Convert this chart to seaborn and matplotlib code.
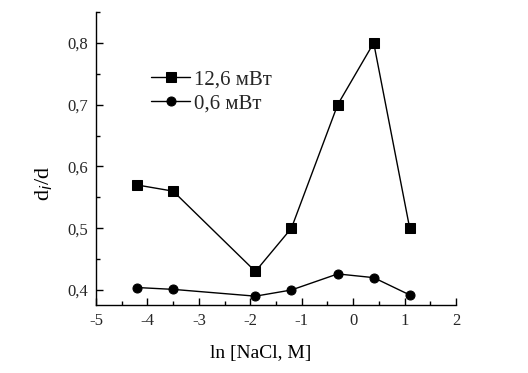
import matplotlib
matplotlib.use("Agg")
import matplotlib.pyplot as plt
import pandas as pd
import seaborn as sns
from matplotlib.ticker import FixedLocator, MultipleLocator

# --- data ---
ln_nacl = [-4.2, -3.5, -1.9, -1.2, -0.3, 0.4, 1.1]
ratio_high = [0.57, 0.56, 0.43, 0.50, 0.70, 0.80, 0.50]
ratio_low = [0.404, 0.401, 0.390, 0.400, 0.426, 0.420, 0.392]
series_names = ["12,6 мВт", "0,6 мВт"]

x_ticks = [-5, -4, -3, -2, -1, 0, 1, 2]
y_ticks = [0.4, 0.5, 0.6, 0.7, 0.8]

df = pd.DataFrame({
    "x": ln_nacl * 2,
    "y": ratio_high + ratio_low,
    "series": [series_names[0]] * len(ln_nacl) + [series_names[1]] * len(ln_nacl),
})

sns.set_theme(style="white")
plt.rcParams["font.family"] = ["Liberation Serif", "DejaVu Serif"]

fig = plt.figure(figsize=(5.28, 3.73), dpi=100)
ax = fig.add_axes([0.1818, 0.1823, 0.6818, 0.7855])

sns.lineplot(
    data=df, x="x", y="y", hue="series", style="series",
    markers={series_names[0]: "s", series_names[1]: "o"},
    dashes=False, palette=["black", "black"], linewidth=1.0,
    markersize=6.5, markeredgecolor="black", ax=ax,
)

ax.set_xlim(-5, 2)
ax.set_ylim(0.3757, 0.85)
ax.xaxis.set_major_locator(FixedLocator(x_ticks))
ax.xaxis.set_minor_locator(MultipleLocator(0.5))
ax.yaxis.set_major_locator(FixedLocator(y_ticks))
ax.yaxis.set_minor_locator(MultipleLocator(0.05))
ax.set_xticklabels([str(t) for t in x_ticks], fontsize=12)
ax.set_yticklabels([f"{t:.1f}".replace(".", ",") for t in y_ticks], fontsize=12)
ax.tick_params(which="major", direction="in", length=5, width=1, color="black",
               bottom=True, left=True, pad=6)
ax.tick_params(which="minor", direction="in", length=3, width=1, color="black",
               bottom=True, left=True)

for side in ["top", "right"]:
    ax.spines[side].set_visible(False)
for side in ["left", "bottom"]:
    ax.spines[side].set_color("black")
    ax.spines[side].set_linewidth(1.0)

ax.set_xlabel("ln [NaCl, M]", fontsize=14, color="black")
ax.set_ylabel("d$_i$/d", fontsize=16, color="black")
ax.xaxis.set_label_coords(0.458, -0.137)
ax.yaxis.set_label_coords(-0.115, 0.416)

leg = ax.legend(loc="upper left", bbox_to_anchor=(0.1, 0.867), frameon=False,
                fontsize=15, handlelength=1.9, labelspacing=0.2, handletextpad=0.2)

fig.savefig("out.png", dpi=100)
